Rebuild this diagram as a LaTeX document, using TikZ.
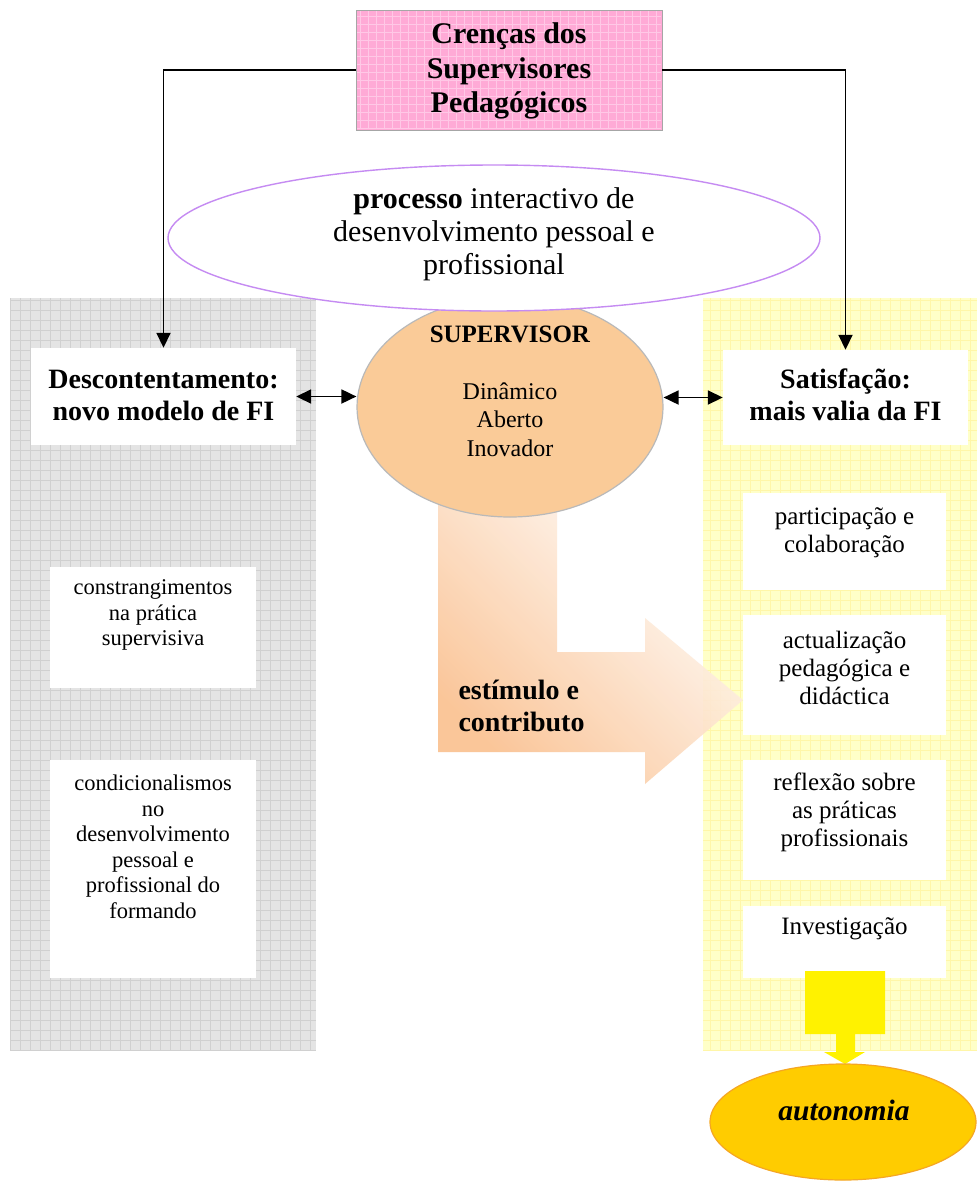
\documentclass[tikz,border=0pt]{standalone}
\usepackage{fontspec}
\setmainfont{Liberation Serif}
\usetikzlibrary{arrows.meta,shapes.geometric}
\definecolor{panelgray}{HTML}{E4E4E4}
\definecolor{gridgray}{HTML}{D0D0D0}
\definecolor{panelyel}{HTML}{FFFFC8}
\definecolor{gridyel}{HTML}{FFF6A8}
\definecolor{pinkbox}{HTML}{FFAAD6}
\definecolor{gridpink}{HTML}{FFC8E6}
\definecolor{peach}{HTML}{FACB98}
\definecolor{arrowpeach}{HTML}{FAC08F}
\definecolor{lilac}{HTML}{C58BF2}
\definecolor{gold}{HTML}{FFCC00}
\definecolor{goldedge}{HTML}{F5A623}
\tikzset{
  whitebox/.style={rectangle, fill=white, inner sep=0pt},
  bigbold/.style={font=\fontsize{28}{32}\selectfont\bfseries, align=center},
  lefttxt/.style={font=\fontsize{22.5}{25.5}\selectfont, align=center},
  righttxt/.style={font=\fontsize{25}{28}\selectfont, align=center},
  conn/.style={line width=1.8pt, -{Triangle[length=15pt,width=14pt]}},
  dbl/.style={line width=1.8pt, {Triangle[length=15pt,width=14pt]}-{Triangle[length=15pt,width=14pt]}},
}
\begin{document}
\begin{tikzpicture}[x=1pt,y=-1pt]
\useasboundingbox (0,0) rectangle (977,1184);
\fill[white] (0,0) rectangle (977,1184);

% left gray panel
\fill[panelgray] (10,298) rectangle (316,1050);
\draw[gridgray, line width=0.5pt, step=10pt] (10,1050) grid (316,298);
% right yellow panel
\fill[panelyel] (703,298) rectangle (977,1050);
\draw[gridyel, line width=0.5pt, step=10pt] (703,1050) grid (977,298);

% pink box
\node[rectangle, fill=pinkbox, minimum width=306pt, minimum height=120pt, inner sep=0pt] (cren) at (509,70) {};
\draw[gridpink, line width=0.5pt, step=8pt] (357,129) grid (661,11);
\draw[gray!70, line width=1pt] (356,10) rectangle (662,130);
\node[font=\fontsize{30}{34.5}\selectfont\bfseries, align=center] at (509,71) {Crenças dos\\Supervisores\\Pedagógicos};

% white boxes
\node[whitebox, minimum width=265pt, minimum height=97pt] (desc) at (163.5,396.5) {};
\node[bigbold] at (163.5,395) {Descontentamento:\\novo modelo de FI};
\node[whitebox, minimum width=245pt, minimum height=95pt] (sat) at (845.5,397.5) {};
\node[bigbold] at (845.5,395) {Satisfação:\\mais valia da FI};

\node[whitebox, minimum width=206pt, minimum height=121pt] (cons) at (153,627.5) {};
\node[lefttxt] at (153,615) {constrangimentos\\na prática\\supervisiva};
\node[whitebox, minimum width=206pt, minimum height=218pt] (cond) at (153,869) {};
\node[lefttxt] at (153,847) {condicionalismos\\no\\desenvolvimento\\pessoal e\\profissional do\\formando};

\node[whitebox, minimum width=203pt, minimum height=97pt] (part) at (844.5,541.5) {};
\node[righttxt] at (844.5,533) {participação e\\colaboração};
\node[whitebox, minimum width=203pt, minimum height=120pt] (act) at (844.5,675) {};
\node[righttxt] at (844.5,668) {actualização\\pedagógica e\\didáctica};
\node[whitebox, minimum width=203pt, minimum height=120pt] (refl) at (844.5,820) {};
\node[righttxt] at (844.5,812) {reflexão sobre\\as práticas\\profissionais};
\node[whitebox, minimum width=203pt, minimum height=72pt] (inv) at (844.5,942) {};
\node[righttxt] at (844.5,929) {Investigação};

% orange bent arrow
\shade[bottom color=arrowpeach, top color=white, shading angle=-45, opacity=0.9]
  (438,480) -- (557,480) -- (557,652) -- (645,652) -- (645,618) -- (743,700)
  -- (645,784) -- (645,752) -- (438,752) -- cycle;
\node[bigbold, align=left, anchor=west] at (455,706) {estímulo e\\contributo};

% supervisor ellipse
\node[ellipse, fill=peach, draw=gray!55, line width=1.2pt, minimum width=306pt, minimum height=220pt, inner sep=0pt] (sup) at (510,407) {};
\node[righttxt, font=\fontsize{24}{28.5}\selectfont] at (510,391) {\textbf{\fontsize{25}{28.5}\selectfont SUPERVISOR}\\[28.5pt]Dinâmico\\Aberto\\Inovador};

% process ellipse
\node[ellipse, fill=white, draw=lilac, line width=1.4pt, minimum width=652pt, minimum height=146pt, inner sep=0pt] (proc) at (494,238) {};
\node[font=\fontsize{30}{33}\selectfont, align=center] at (494,234) {\textbf{processo} interactivo de\\desenvolvimento pessoal e\\profissional};

% yellow block arrow
\fill[yellow] (805,971) -- (885,971) -- (885,1034) -- (855,1034) -- (855,1052) -- (865,1052)
  -- (845,1064) -- (824,1052) -- (836,1052) -- (836,1034) -- (805,1034) -- cycle;

% autonomia
\node[ellipse, fill=gold, draw=goldedge, line width=1.2pt, minimum width=266pt, minimum height=116pt, inner sep=0pt] (auto) at (843,1122) {};
\node[font=\fontsize{29.5}{34}\selectfont\bfseries\itshape] at (844,1110) {autonomia};

% connectors
\draw[conn] (cren.west) -| (desc.north);
\draw[conn] (cren.east) -| (sat.north);
\draw[dbl] (desc.east) -- (desc.east -| sup.west);
\draw[dbl] (sat.west -| sup.east) -- (sat.west);
\end{tikzpicture}
\end{document}
